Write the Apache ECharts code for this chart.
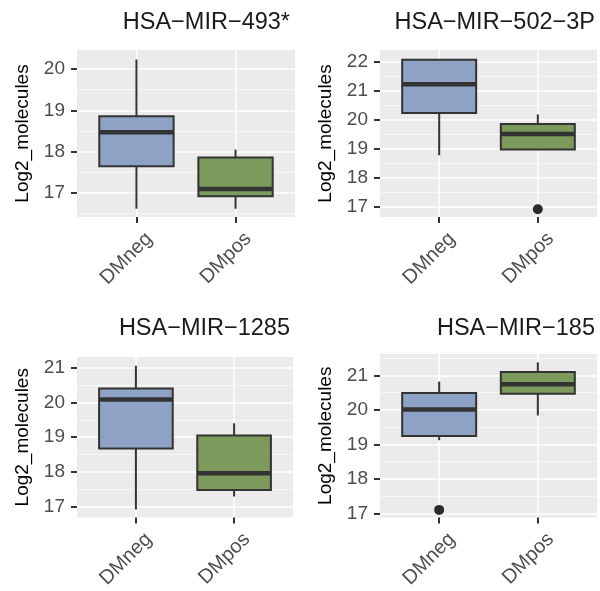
<!DOCTYPE html>
<html>
<head>
<meta charset="utf-8">
<script src="https://cdn.jsdelivr.net/npm/echarts@6/dist/echarts.min.js"></script>
<style>
  html, body { margin: 0; padding: 0; background: #fff; }
  #main { width: 600px; height: 591px; }
</style>
</head>
<body>
<div id="main"></div>
<script>
// categories and panel titles
var categories = ["DMneg", "DMpos"];
var titles = ["HSA\u2212MIR\u2212493*", "HSA\u2212MIR\u2212502\u22123P", "HSA\u2212MIR\u22121285", "HSA\u2212MIR\u2212185"];

// box stats per panel: [min, Q1, median, Q3, max] for DMneg, DMpos
var mir493 = [[16.62, 17.65, 18.47, 18.86, 20.23], [16.62, 16.92, 17.10, 17.86, 18.05]];
var mir502 = [[18.77, 20.23, 21.22, 22.06, 22.08], [18.95, 18.97, 19.50, 19.85, 20.18]];
var mir1285 = [[16.93, 18.68, 20.08, 20.40, 21.05], [17.30, 17.49, 17.97, 19.05, 19.40]];
var mir185 = [[19.12, 19.24, 20.01, 20.49, 20.82], [19.84, 20.47, 20.74, 21.10, 21.38]];

// outliers: [category position, value]
var out493 = [];
var out502 = [[2, 16.91]];
var out1285 = [];
var out185 = [[1, 17.10]];

// y ranges and tick labels
var yRanges = [[16.42, 20.46], [16.64, 22.40], [16.70, 21.30], [16.88, 21.62]];
var yTicks = [[17, 18, 19, 20], [17, 18, 19, 20, 21, 22], [17, 18, 19, 20, 21], [17, 18, 19, 20, 21]];
var yMinor = [[16.5, 17.5, 18.5, 19.5], [17.5, 18.5, 19.5, 20.5, 21.5], [17.5, 18.5, 19.5, 20.5], [17.5, 18.5, 19.5, 20.5, 21.5]];

var stats = [mir493, mir502, mir1285, mir185];
var outliers = [out493, out502, out1285, out185];

var fills = ["#8ea2c5", "#7b9a5c"];
var font = "Liberation Sans, Arial, sans-serif";

// panel layout
var grids = [
  { left: 77, top: 50, width: 218, height: 167 },
  { left: 380, top: 50, width: 217, height: 167 },
  { left: 77, top: 357, width: 216, height: 166 },
  { left: 380, top: 354, width: 217, height: 166 }
];
var titlePos = [
  { right: 310, top: 11 },
  { right: 5, top: 11 },
  { right: 310, top: 317 },
  { right: 5, top: 317 }
];

var chart = echarts.init(document.getElementById("main"));

var option = {
  backgroundColor: "#fff",
  animation: false,
  title: [],
  grid: [],
  xAxis: [],
  yAxis: [],
  series: []
};

function renderBox(params, api) {
  var x = api.value(0);
  var lo = api.coord([x, api.value(1)]);
  var q1 = api.coord([x, api.value(2)]);
  var med = api.coord([x, api.value(3)]);
  var q3 = api.coord([x, api.value(4)]);
  var hi = api.coord([x, api.value(5)]);
  var w = api.size([0.75, 0])[0];
  var stroke = "#333333";
  return {
    type: "group",
    children: [
      { type: "line", shape: { x1: hi[0], y1: hi[1], x2: q3[0], y2: q3[1] }, style: { stroke: stroke, lineWidth: 2 } },
      { type: "line", shape: { x1: q1[0], y1: q1[1], x2: lo[0], y2: lo[1] }, style: { stroke: stroke, lineWidth: 2 } },
      { type: "rect", shape: { x: q3[0] - w / 2, y: q3[1], width: w, height: q1[1] - q3[1] },
        style: { fill: fills[params.dataIndex], stroke: stroke, lineWidth: 2 } },
      { type: "line", shape: { x1: med[0] - w / 2, y1: med[1], x2: med[0] + w / 2, y2: med[1] },
        style: { stroke: stroke, lineWidth: 4.5 } }
    ]
  };
}

for (var p = 0; p < 4; p++) {
  option.title.push({
    text: titles[p],
    right: titlePos[p].right,
    top: titlePos[p].top,
    padding: 0,
    textStyle: { fontFamily: font, fontSize: 23.5, fontWeight: "normal", color: "#1a1a1a" }
  });
  var g = grids[p];
  option.grid.push({
    left: g.left, top: g.top, width: g.width, height: g.height,
    show: true, backgroundColor: "#ebebeb", borderWidth: 0
  });
  option.xAxis.push({
    type: "value",
    gridIndex: p,
    min: 0.4,
    max: 2.6,
    axisLine: { show: false },
    axisTick: { show: true, customValues: [1, 2], length: 6, lineStyle: { color: "#333", width: 2 } },
    axisLabel: {
      customValues: [1, 2],
      formatter: function (v) { return categories[Math.round(v) - 1]; },
      rotate: 45, align: "right", verticalAlign: "top", margin: 6, padding: [8, 0, 0, 0],
      fontFamily: font, fontSize: 20, color: "#4d4d4d"
    },
    splitLine: { show: true, lineStyle: { color: "#ffffff", width: 1.5 } }
  });
  // main y axis
  option.yAxis.push({
    type: "value",
    gridIndex: p,
    min: yRanges[p][0],
    max: yRanges[p][1],
    name: "Log2_molecules",
    nameLocation: "middle",
    nameRotate: 90,
    nameGap: 45,
    nameTextStyle: { fontFamily: font, fontSize: 19, color: "#000" },
    axisLine: { show: false },
    axisTick: { show: true, customValues: yTicks[p], length: 6, lineStyle: { color: "#333", width: 2 } },
    axisLabel: { customValues: yTicks[p], margin: 12, fontFamily: font, fontSize: 19, color: "#4d4d4d" },
    splitLine: { show: true, lineStyle: { color: "#ffffff", width: 1.5 } }
  });
  // minor grid lines
  option.yAxis.push({
    type: "value",
    gridIndex: p,
    min: yRanges[p][0],
    max: yRanges[p][1],
    axisLine: { show: false },
    axisTick: { show: false, customValues: yMinor[p] },
    axisLabel: { show: false },
    splitLine: { show: true, lineStyle: { color: "#f7f7f7", width: 1 } }
  });

  option.series.push({
    type: "custom",
    xAxisIndex: p,
    yAxisIndex: 2 * p,
    renderItem: renderBox,
    encode: { x: 0, y: [1, 2, 3, 4, 5] },
    data: stats[p].map(function (s, i) { return [i + 1].concat(s); }),
    z: 3
  });
  option.series.push({
    type: "scatter",
    xAxisIndex: p,
    yAxisIndex: 2 * p,
    symbolSize: 10,
    itemStyle: { color: "#2b2b2b", opacity: 1 },
    data: outliers[p],
    z: 4
  });
}

chart.setOption(option);
window.addEventListener("resize", function () {
  chart.resize();
});
</script>
</body>
</html>
